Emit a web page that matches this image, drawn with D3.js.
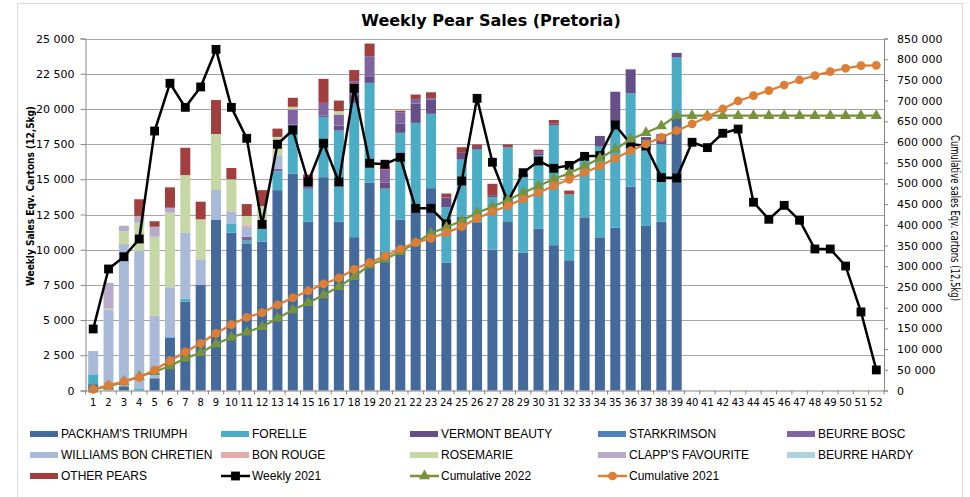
<!DOCTYPE html>
<html>
<head>
<meta charset="utf-8">
<script src="https://cdn.jsdelivr.net/npm/d3@7"></script>
<style>
  body { margin: 0; background: #fff; }
  svg text { font-family: "DejaVu Sans", sans-serif; fill: #000; }
</style>
</head>
<body>
<svg id="chart"></svg>
<script>
// categories
let weeks = d3.range(1, 53)
let barWeeks = d3.range(1, 40)

// stacked bars, weeks 1-39 (cartons)
let packham = [450, 0, 300, 0, 870, 3750, 6310, 7490, 12110, 11210, 10450, 10570, 14230, 15410, 11980, 15150, 11980, 10890, 14750, 9820, 12140, 12690, 14370, 9070, 12330, 11950, 10010, 12020, 9780, 11480, 10320, 9250, 12300, 10880, 11560, 14480, 11690, 11990, 19300]
let forelle = [700, 0, 50, 150, 0, 50, 210, 0, 0, 660, 190, 970, 1340, 3360, 2340, 4280, 6480, 9490, 7100, 4520, 6160, 6320, 5280, 3950, 4070, 5160, 3720, 5260, 5420, 5220, 8530, 4670, 4200, 6440, 7530, 6630, 6060, 5500, 4350]
let vermont = [0, 0, 0, 0, 0, 0, 0, 0, 0, 0, 0, 0, 0, 120, 0, 100, 360, 600, 470, 410, 660, 1370, 1010, 660, 480, 190, 140, 0, 150, 100, 100, 0, 0, 760, 2130, 1700, 250, 720, 330]
let starkrimson = [0, 0, 0, 0, 0, 0, 0, 0, 0, 0, 0, 0, 0, 0, 0, 0, 0, 0, 0, 0, 0, 0, 0, 0, 0, 0, 0, 0, 0, 0, 0, 0, 0, 0, 0, 0, 0, 0, 0]
let beurreBosc = [0, 0, 0, 0, 0, 0, 0, 0, 0, 0, 280, 0, 170, 1070, 240, 900, 780, 990, 1420, 940, 800, 330, 120, 50, 0, 0, 0, 0, 0, 150, 0, 0, 0, 0, 0, 0, 0, 0, 0]
let williams = [1650, 5710, 10050, 9780, 4440, 3530, 4710, 1830, 2130, 830, 710, 550, 970, 0, 0, 0, 0, 0, 0, 0, 0, 0, 0, 0, 0, 0, 0, 0, 0, 0, 0, 0, 0, 0, 0, 0, 0, 0, 0]
let bonRouge = [0, 0, 0, 0, 0, 0, 0, 0, 0, 50, 170, 0, 0, 0, 0, 0, 0, 0, 0, 0, 0, 0, 0, 0, 0, 0, 0, 0, 0, 0, 0, 0, 0, 0, 0, 0, 0, 0, 0]
let rosemarie = [0, 100, 900, 1990, 5610, 5300, 4070, 2840, 3980, 2250, 590, 1000, 1300, 190, 0, 0, 240, 0, 0, 0, 0, 0, 0, 0, 0, 0, 0, 0, 0, 0, 0, 0, 0, 0, 0, 0, 0, 0, 0]
let clapps = [0, 1840, 400, 470, 710, 350, 0, 0, 0, 0, 0, 0, 0, 0, 0, 0, 0, 0, 0, 0, 0, 0, 0, 0, 0, 0, 0, 0, 0, 0, 0, 0, 0, 0, 0, 0, 0, 0, 0]
let beurreHardy = [0, 0, 0, 0, 0, 0, 0, 0, 0, 0, 0, 0, 0, 0, 0, 0, 0, 0, 0, 0, 0, 0, 0, 0, 0, 0, 0, 0, 0, 0, 0, 0, 0, 0, 0, 0, 0, 0, 0]
let otherPears = [0, 0, 0, 1190, 390, 1450, 1940, 1250, 2410, 800, 850, 1140, 590, 640, 780, 1700, 750, 790, 900, 240, 120, 310, 400, 260, 400, 170, 810, 200, 0, 150, 260, 280, 0, 0, 0, 0, 0, 0, 0]

// lines, weeks 1-52
let weekly2021 = [4370, 8630, 9500, 10760, 18430, 21820, 20110, 21560, 24230, 20110, 17910, 11800, 17490, 18500, 14810, 17560, 14810, 21460, 16140, 16070, 16560, 12940, 12940, 11830, 14880, 20750, 16210, 13410, 15470, 16300, 15780, 15990, 16630, 16680, 18860, 17510, 17370, 15120, 15090, 17630, 17250, 18270, 18570, 13370, 12160, 13150, 12090, 10050, 10050, 8840, 5580, 1460]
let cumulative2022 = [2800, 10000, 21000, 34000, 45400, 59200, 77700, 91300, 112300, 128400, 140500, 154100, 174300, 194400, 212000, 230600, 250700, 274800, 303100, 316800, 335200, 357000, 379600, 394100, 410100, 429400, 443900, 460000, 477700, 493800, 510700, 524500, 542100, 560700, 582400, 606600, 622600, 638700, 663600, 663600, 663600, 663600, 663600, 663600, 663600, 663600, 663600, 663600, 663600, 663600, 663600, 663600]
let cumulative2021 = [2900, 12600, 21300, 31900, 49500, 72000, 93000, 114000, 138100, 158900, 176800, 187900, 206500, 224100, 240300, 257200, 271700, 292700, 308600, 324800, 341700, 357000, 367500, 381100, 395600, 415800, 431800, 446300, 462400, 477700, 494600, 510000, 526000, 542100, 560700, 579000, 595200, 611400, 627400, 643600, 661200, 679800, 699100, 711900, 724000, 737700, 749800, 760200, 769900, 778100, 784400, 785300]

// tick labels
let leftTicks = d3.range(0, 25001, 2500)
let rightTicks = d3.range(0, 850001, 50000)

let varieties = [
  { name: "PACKHAM'S TRIUMPH", values: packham, color: '#44699B' },
  { name: 'FORELLE', values: forelle, color: '#4BACC6' },
  { name: 'VERMONT BEAUTY', values: vermont, color: '#664F86' },
  { name: 'STARKRIMSON', values: starkrimson, color: '#4F81BD' },
  { name: 'BEURRE BOSC', values: beurreBosc, color: '#8064A2' },
  { name: 'WILLIAMS BON CHRETIEN', values: williams, color: '#A9B9D8' },
  { name: 'BON ROUGE', values: bonRouge, color: '#E0ACAC' },
  { name: 'ROSEMARIE', values: rosemarie, color: '#C6D7A6' },
  { name: "CLAPP'S FAVOURITE", values: clapps, color: '#B8ABCA' },
  { name: 'BEURRE HARDY', values: beurreHardy, color: '#AED3E0' },
  { name: 'OTHER PEARS', values: otherPears, color: '#A13F3E' }
]

let lines = [
  { name: 'Weekly 2021', values: weekly2021, color: '#000000', axis: 'left', marker: 'square' },
  { name: 'Cumulative 2022', values: cumulative2022, color: '#77933C', axis: 'right', marker: 'triangle' },
  { name: 'Cumulative 2021', values: cumulative2021, color: '#DD7E36', axis: 'right', marker: 'circle' }
]

let width = 970
let height = 497
let plotLeft = 85.5
let plotRight = 884
let plotTop = 38.5
let plotBottom = 390.5

let xScale
let yScale
let y2Scale

let svg = d3.select('#chart')
let fmt = d3.formatLocale({ decimal: ',', thousands: '\u00a0', grouping: [3] }).format(',')

let drawCanvas = () => {
  svg.attr('width', width).attr('height', height)
  svg.append('rect')
    .attr('x', 17.5).attr('y', 3.5)
    .attr('width', 945).attr('height', 520)
    .attr('fill', '#fff')
    .attr('stroke', '#D9D9D9')

  svg.append('text')
    .attr('x', 491).attr('y', 26)
    .attr('text-anchor', 'middle')
    .style('font-size', '16px')
    .style('font-weight', 'bold')
    .text('Weekly Pear Sales (Pretoria)')
}

let generateScales = () => {
  xScale = d3.scaleBand()
    .domain(weeks)
    .range([plotLeft, plotRight])
    .paddingInner(0.35)
    .paddingOuter(0.175)

  yScale = d3.scaleLinear()
    .domain([0, 25000])
    .range([plotBottom, plotTop])

  y2Scale = d3.scaleLinear()
    .domain([0, 850000])
    .range([plotBottom, plotTop])
}

let drawGrid = () => {
  svg.append('g')
    .selectAll('line')
    .data(leftTicks.filter(d => d > 0))
    .enter()
    .append('line')
    .attr('x1', plotLeft).attr('x2', plotRight)
    .attr('y1', d => Math.round(yScale(d)) + 0.5)
    .attr('y2', d => Math.round(yScale(d)) + 0.5)
    .attr('stroke', '#A6A6A6')
    .attr('stroke-width', 1)
}

let drawBars = () => {
  let rows = barWeeks.map((w, i) => {
    let row = { week: w }
    varieties.forEach(v => { row[v.name] = v.values[i] })
    return row
  })
  let stacked = d3.stack().keys(varieties.map(v => v.name))(rows)

  svg.append('g')
    .selectAll('g')
    .data(stacked)
    .enter()
    .append('g')
    .attr('fill', (s, i) => varieties[i].color)
    .selectAll('rect')
    .data(s => s)
    .enter()
    .append('rect')
    .attr('x', d => xScale(d.data.week))
    .attr('width', xScale.bandwidth())
    .attr('y', d => yScale(d[1]))
    .attr('height', d => yScale(d[0]) - yScale(d[1]))
}

let markerPath = (type) => {
  if (type === 'square') return d3.symbol().type(d3.symbolSquare).size(78)()
  if (type === 'triangle') return d3.symbol().type(d3.symbolTriangle).size(55)()
  return d3.symbol().type(d3.symbolCircle).size(60)()
}

let drawLines = () => {
  let cx = (w) => xScale(w) + xScale.bandwidth() / 2

  lines.forEach(l => {
    let ys = l.axis === 'left' ? yScale : y2Scale
    let line = d3.line()
      .x((v, i) => cx(weeks[i]))
      .y(v => ys(v))

    let g = svg.append('g')
    g.append('path')
      .datum(l.values)
      .attr('d', line)
      .attr('fill', 'none')
      .attr('stroke', l.color)
      .attr('stroke-width', l.marker === 'square' ? 2.5 : 2.25)
      .attr('stroke-linejoin', 'round')

    g.selectAll('path.mk')
      .data(l.values)
      .enter()
      .append('path')
      .attr('class', 'mk')
      .attr('d', markerPath(l.marker))
      .attr('transform', (v, i) => 'translate(' + cx(weeks[i]) + ',' + ys(v) + ')')
      .attr('fill', l.color)
  })
}

let generateAxes = () => {
  let axisColor = '#868686'

  // left axis
  let yAxis = d3.axisLeft(yScale)
    .tickValues(leftTicks)
    .tickFormat(fmt)
    .tickSize(5)
    .tickPadding(6)
  let gy = svg.append('g')
    .attr('transform', 'translate(' + plotLeft + ', 0)')
    .call(yAxis)
  gy.select('.domain').attr('stroke', axisColor)
  gy.selectAll('.tick line').attr('stroke', axisColor)
  gy.selectAll('text').style('font-size', '11px').style('font-family', '"DejaVu Sans", sans-serif')

  // right axis
  let y2Axis = d3.axisRight(y2Scale)
    .tickValues(rightTicks)
    .tickFormat(fmt)
    .tickSize(4)
    .tickPadding(9)
  let gy2 = svg.append('g')
    .attr('transform', 'translate(' + plotRight + ', 0)')
    .call(y2Axis)
  gy2.select('.domain').attr('stroke', axisColor)
  gy2.selectAll('.tick line').attr('stroke', axisColor)
  gy2.selectAll('text').style('font-size', '11px').style('font-family', '"DejaVu Sans", sans-serif')

  // bottom axis: labels centred on bars, ticks between categories
  let xAxis = d3.axisBottom(xScale).tickSize(0).tickPadding(8)
  let gx = svg.append('g')
    .attr('transform', 'translate(0, ' + plotBottom + ')')
    .call(xAxis)
  gx.select('.domain').attr('stroke', axisColor)
  gx.selectAll('text').style('font-size', '10px').style('font-family', '"DejaVu Sans", sans-serif')

  let step = xScale.step()
  let bounds = weeks.map(w => xScale(w) - step * xScale.paddingInner() / 2).concat([plotRight])
  gx.selectAll('line.sep')
    .data(bounds)
    .enter()
    .append('line')
    .attr('class', 'sep')
    .attr('x1', d => d).attr('x2', d => d)
    .attr('y1', 0).attr('y2', 4)
    .attr('stroke', axisColor)

  // axis titles
  svg.append('text')
    .attr('transform', 'translate(34, 196) rotate(-90)')
    .attr('text-anchor', 'middle')
    .attr('textLength', 180)
    .attr('lengthAdjust', 'spacingAndGlyphs')
    .style('font-family', '"Liberation Sans Narrow", "DejaVu Sans Condensed", sans-serif')
    .style('font-size', '11px')
    .style('font-weight', 'bold')
    .text('Weekly Sales Eqv. Cartons (12,5kg)')

  svg.append('text')
    .attr('transform', 'translate(951, 218) rotate(90)')
    .attr('text-anchor', 'middle')
    .attr('textLength', 166)
    .attr('lengthAdjust', 'spacingAndGlyphs')
    .style('font-family', '"Liberation Sans Narrow", "DejaVu Sans Condensed", sans-serif')
    .style('font-size', '11.5px')
    .text('Cumulative sales Eqv. cartons (12,5kg)')
}

let drawLegend = () => {
  let colX = [30, 221, 410, 598, 787]
  let rowY = [434, 455, 476]
  let items = varieties.map(v => ({ name: v.name, color: v.color, kind: 'bar' }))
    .concat(lines.map(l => ({ name: l.name, color: l.color, kind: 'line', marker: l.marker })))

  let g = svg.append('g')
  items.forEach((it, i) => {
    let x = colX[i % 5]
    let y = rowY[Math.floor(i / 5)]
    let item = g.append('g').attr('transform', 'translate(' + x + ',' + y + ')')
    if (it.kind === 'bar') {
      item.append('rect')
        .attr('x', 0).attr('y', -3)
        .attr('width', 28).attr('height', 6)
        .attr('fill', it.color)
    } else {
      item.append('line')
        .attr('x1', 0).attr('x2', 29)
        .attr('y1', 0).attr('y2', 0)
        .attr('stroke', it.color)
        .attr('stroke-width', 2.5)
      item.append('path')
        .attr('d', markerPath(it.marker))
        .attr('transform', 'translate(14.5,0)')
        .attr('fill', it.color)
    }
    item.append('text')
      .attr('x', 31).attr('y', 0)
      .attr('dy', '0.35em')
      .style('font-family', '"Liberation Sans", Arial, sans-serif')
      .style('font-size', '12px')
      .text(it.name)
  })
}

drawCanvas()
generateScales()
drawGrid()
drawBars()
drawLines()
generateAxes()
drawLegend()
</script>
</body>
</html>
